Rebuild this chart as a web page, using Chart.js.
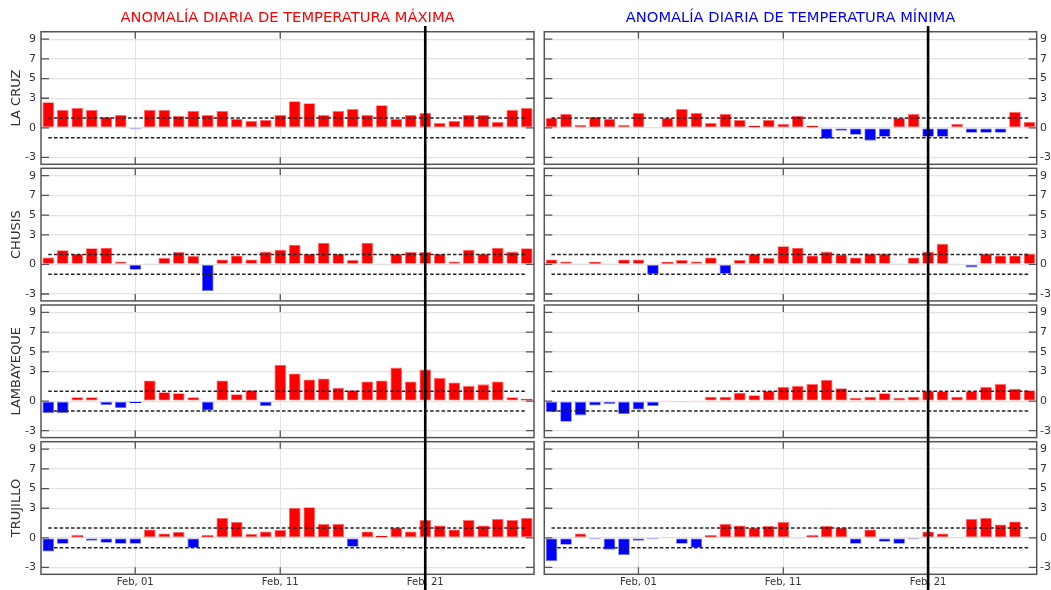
<!DOCTYPE html>
<html>
<head>
<meta charset="utf-8">
<script src="https://cdn.jsdelivr.net/npm/chart.js@4/dist/chart.umd.min.js"></script>
<style>
  html, body { margin: 0; padding: 0; background: #fff; }
  body { width: 1051px; height: 590px; position: relative; overflow: hidden; }
  canvas { position: absolute; display: block; }
</style>
</head>
<body>
<script>
// Days shown on the x axis (one bar per day)
const dates = [
  'Jan, 26', 'Jan, 27', 'Jan, 28', 'Jan, 29', 'Jan, 30', 'Jan, 31',
  'Feb, 01', 'Feb, 02', 'Feb, 03', 'Feb, 04', 'Feb, 05', 'Feb, 06', 'Feb, 07',
  'Feb, 08', 'Feb, 09', 'Feb, 10', 'Feb, 11', 'Feb, 12', 'Feb, 13', 'Feb, 14',
  'Feb, 15', 'Feb, 16', 'Feb, 17', 'Feb, 18', 'Feb, 19', 'Feb, 20', 'Feb, 21',
  'Feb, 22', 'Feb, 23', 'Feb, 24', 'Feb, 25', 'Feb, 26', 'Feb, 27', 'Feb, 28'
];
const xTicks = ['Feb, 01', 'Feb, 11', 'Feb, 21'];
const today = 'Feb, 21';
const yTicks = [-3, 0, 3, 5, 7, 9];
const limits = [1, -1];
const stations = ['LA CRUZ', 'CHUSIS', 'LAMBAYEQUE', 'TRUJILLO'];
const titles = ['ANOMALÍA DIARIA DE TEMPERATURA MÁXIMA', 'ANOMALÍA DIARIA DE TEMPERATURA MÍNIMA'];

// Daily anomalies (°C)
const laCruzMax = [2.6, 1.8, 2.0, 1.8, 1.1, 1.3, -0.15, 1.8, 1.8, 1.2, 1.7, 1.3, 1.7, 0.9, 0.7, 0.8, 1.3, 2.7, 2.5, 1.3, 1.7, 1.9, 1.3, 2.3, 0.9, 1.3, 1.5, 0.5, 0.7, 1.3, 1.3, 0.6, 1.8, 2.0];
const laCruzMin = [1.0, 1.4, 0.3, 1.1, 0.9, 0.3, 1.5, 0.05, 1.0, 1.9, 1.5, 0.5, 1.4, 0.8, 0.2, 0.8, 0.4, 1.2, 0.2, -1.1, -0.3, -0.7, -1.3, -0.9, 1.0, 1.4, -0.9, -0.9, 0.4, -0.5, -0.5, -0.5, 1.6, 0.6];
const chusisMax = [0.7, 1.45, 1.05, 1.65, 1.7, 0.3, -0.55, 0.05, 0.65, 1.25, 0.85, -2.7, 0.5, 0.9, 0.5, 1.3, 1.5, 2.0, 1.05, 2.2, 1.05, 0.45, 2.2, 0.05, 1.05, 1.25, 1.25, 1.05, 0.3, 1.5, 1.1, 1.7, 1.3, 1.65];
const chusisMin = [0.5, 0.3, 0.05, 0.25, 0.1, 0.5, 0.5, -1.0, 0.25, 0.45, 0.3, 0.7, -0.95, 0.45, 1.05, 0.65, 1.85, 1.7, 0.9, 1.3, 1.0, 0.7, 1.1, 1.1, 0.1, 0.7, 1.3, 2.1, 0.1, -0.3, 1.1, 0.9, 0.9, 1.1];
const lambayequeMax = [-1.2, -1.2, 0.4, 0.4, -0.4, -0.7, -0.2, 2.1, 0.9, 0.8, 0.4, -0.95, 2.1, 0.7, 1.1, -0.5, 3.7, 2.8, 2.2, 2.3, 1.35, 1.1, 2.0, 2.1, 3.4, 2.0, 3.2, 2.35, 1.9, 1.55, 1.7, 2.0, 0.4, 0.25];
const lambayequeMin = [-1.1, -2.1, -1.45, -0.45, -0.3, -1.3, -0.85, -0.5, 0.03, -0.1, 0.03, 0.45, 0.45, 0.85, 0.6, 1.05, 1.45, 1.55, 1.75, 2.15, 1.3, 0.35, 0.45, 0.8, 0.35, 0.45, 1.05, 1.0, 0.45, 1.0, 1.45, 1.75, 1.25, 1.1];
const trujilloMax = [-1.4, -0.6, 0.25, -0.3, -0.5, -0.6, -0.6, 0.85, 0.45, 0.6, -1.0, 0.25, 2.0, 1.6, 0.4, 0.65, 0.8, 3.05, 3.1, 1.4, 1.4, -0.9, 0.65, 0.2, 1.05, 0.65, 1.8, 1.25, 0.85, 1.8, 1.25, 1.9, 1.8, 2.0];
const trujilloMin = [-2.35, -0.7, 0.45, -0.15, -1.2, -1.75, -0.3, -0.15, 0.03, -0.6, -1.0, 0.25, 1.4, 1.25, 1.05, 1.2, 1.6, -0.1, 0.25, 1.2, 1.05, -0.6, 0.85, -0.4, -0.6, -0.15, 0.65, 0.45, 0.03, 1.9, 2.0, 1.35, 1.65, 0.03];

const maxSeries = [laCruzMax, chusisMax, lambayequeMax, trujilloMax];
const minSeries = [laCruzMin, chusisMin, lambayequeMin, trujilloMin];

Chart.defaults.font.family = "'DejaVu Sans', sans-serif";
Chart.defaults.color = '#333';

const RED = '#ff0000', RED_EDGE = '#ff6e6e';
const BLUE = '#0000ff', BLUE_EDGE = '#6e6eff';
const GRID = '#e3e3e3';
const FRAME = '#555';

// Panel rows: canvas band, top padding, x-axis band height, where the marker starts
const rows = [
  { top: 0,   h: 166, pad: 0,   xh: 1.7,  from: 26 },
  { top: 166, h: 137, pad: 2.3, xh: 2.1,  from: 0 },
  { top: 303, h: 136, pad: 2.0, xh: 1.4,  from: 0 },
  { top: 439, h: 151, pad: 2.7, xh: 15.7, from: 0 }
];
const cols = [
  { left: 0,   w: 540, side: 'left',  axisW: 41,   padL: 0,   padR: 6, tickPad: 5,   color: RED,  series: maxSeries },
  { left: 540, w: 511, side: 'right', axisW: 14.3, padL: 4.3, padR: 0, tickPad: 3.3, color: BLUE, series: minSeries }
];

// Frame, inner tick marks and the current-day marker
const panelDeco = {
  id: 'panelDeco',
  beforeDatasetsDraw(chart) {
    const { ctx, chartArea: a, scales: { x, y } } = chart;
    ctx.save();
    ctx.strokeStyle = FRAME;
    ctx.lineWidth = 1.3;
    ctx.beginPath();
    yTicks.forEach(v => {
      const py = y.getPixelForValue(v);
      ctx.moveTo(a.left, py); ctx.lineTo(a.left + 8, py);
      ctx.moveTo(a.right - 8, py); ctx.lineTo(a.right, py);
    });
    xTicks.forEach(d => {
      const px = x.getPixelForValue(dates.indexOf(d));
      ctx.moveTo(px, a.top); ctx.lineTo(px, a.top + 7);
      ctx.moveTo(px, a.bottom - 7); ctx.lineTo(px, a.bottom);
    });
    ctx.stroke();
    ctx.restore();
  },
  afterDraw(chart, args, opts) {
    const { ctx, chartArea: a, scales: { x } } = chart;
    ctx.save();
    ctx.strokeStyle = FRAME;
    ctx.lineWidth = 1.5;
    ctx.strokeRect(a.left, a.top, a.right - a.left, a.bottom - a.top);
    const px = x.getPixelForValue(dates.indexOf(today));
    ctx.fillStyle = '#000';
    ctx.fillRect(px - 1.3, opts.from, 2.6, chart.height - opts.from);
    ctx.restore();
  }
};

// Fixed axis bands so every panel frame lands in the same place
const fixBand = (prop, size) => s => {
  s[prop] = size;
  s.paddingTop = 0; s.paddingBottom = 0;
  s.paddingLeft = 0; s.paddingRight = 0;
};

// Thin bars keep their fill colour on the rim so they stay visible
const edgeFor = v => {
  const small = Math.abs(v) < 0.3;
  if (v < 0) return small ? BLUE : BLUE_EDGE;
  return small ? RED : RED_EDGE;
};

rows.forEach((row, r) => {
  cols.forEach((col, c) => {
    const canvas = document.createElement('canvas');
    canvas.width = col.w;
    canvas.height = row.h;
    canvas.style.left = col.left + 'px';
    canvas.style.top = row.top + 'px';
    canvas.style.width = col.w + 'px';
    canvas.style.height = row.h + 'px';
    document.body.appendChild(canvas);

    const values = col.series[r];
    const datasets = [{
      type: 'bar',
      data: values,
      backgroundColor: ctx => (ctx.raw < 0 ? BLUE : RED),
      borderColor: ctx => edgeFor(ctx.raw),
      borderWidth: 0.8,
      borderSkipped: false,
      barPercentage: 0.8,
      categoryPercentage: 1.0,
      order: 2
    }];
    limits.forEach(v => {
      datasets.push({
        type: 'line',
        data: [{ x: dates[0], y: v }, { x: dates[dates.length - 1], y: v }],
        borderColor: '#222',
        borderWidth: 1.4,
        borderDash: [3.5, 2.2],
        pointRadius: 0,
        fill: false,
        order: 1
      });
    });

    new Chart(canvas, {
      type: 'bar',
      data: { labels: dates, datasets },
      options: {
        responsive: false,
        animation: false,
        devicePixelRatio: 1,
        layout: {
          autoPadding: false,
          padding: { left: col.padL, right: col.padR, top: row.pad, bottom: 0 }
        },
        plugins: {
          legend: { display: false },
          tooltip: { enabled: false },
          title: {
            display: r === 0,
            text: titles[c],
            color: col.color,
            fullSize: false,
            font: { size: 14.7, weight: 'normal' },
            padding: { top: 9.8, bottom: 4.3 }
          },
          panelDeco: { from: row.from }
        },
        scales: {
          x: {
            type: 'category',
            offset: true,
            grid: {
              offset: false,
              drawTicks: false,
              lineWidth: 1,
              color: ctx => (ctx.tick && xTicks.includes(dates[ctx.index]) ? GRID : 'rgba(0,0,0,0)')
            },
            border: { display: false },
            ticks: {
              display: r === rows.length - 1,
              autoSkip: false,
              maxRotation: 0,
              minRotation: 0,
              padding: 2.5,
              color: '#333',
              font: { size: 10 },
              callback: (v, i) => (xTicks.includes(dates[i]) ? dates[i] : '')
            },
            afterFit: fixBand('height', row.xh)
          },
          y: {
            type: 'linear',
            position: col.side,
            min: -3.7,
            max: 9.75,
            afterBuildTicks: s => { s.ticks = yTicks.map(v => ({ value: v })); },
            grid: { color: GRID, lineWidth: 1.2, drawTicks: false },
            border: { display: false },
            ticks: {
              padding: col.tickPad,
              color: '#333',
              font: { size: 11 },
              callback: v => String(v)
            },
            title: {
              display: c === 0,
              text: stations[r],
              color: '#333',
              font: { size: 13 },
              padding: { top: 9.2, bottom: 0 }
            },
            afterFit: fixBand('width', col.axisW)
          }
        }
      },
      plugins: [panelDeco]
    });
  });
});
</script>
</body>
</html>
